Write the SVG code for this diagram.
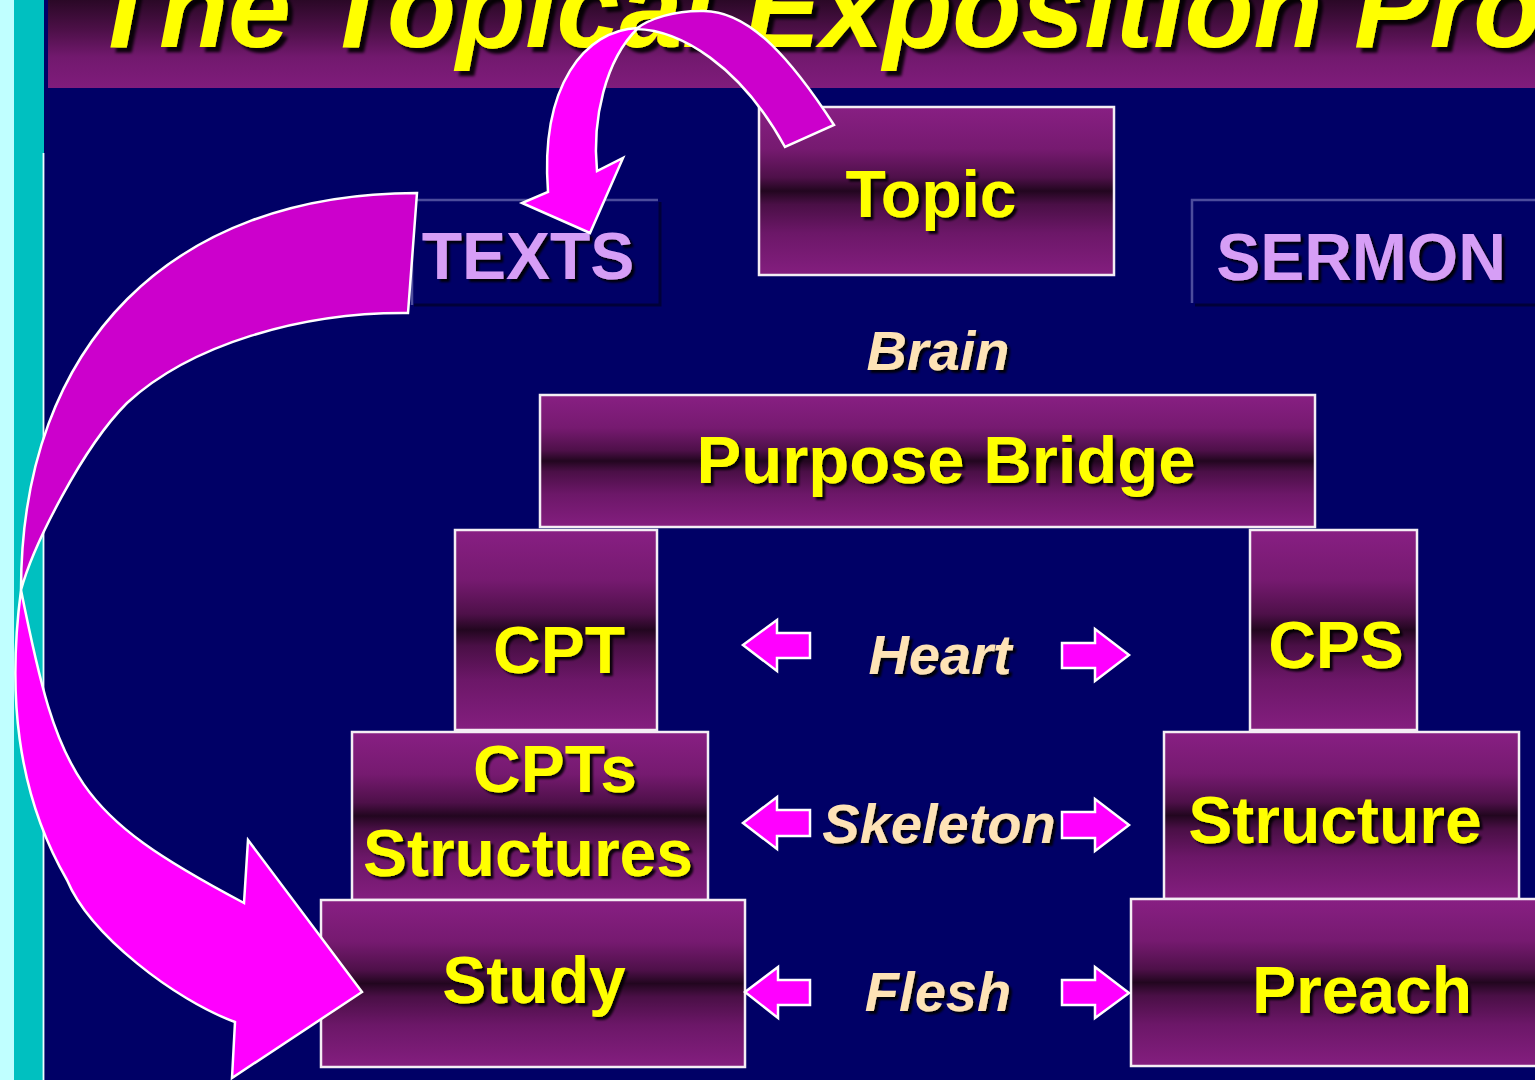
<svg xmlns="http://www.w3.org/2000/svg" width="1535" height="1080" viewBox="0 0 1535 1080">
<defs>
<linearGradient id="boxGrad" x1="0" y1="0" x2="0" y2="1">
<stop offset="0" stop-color="#881f83"/>
<stop offset="0.25" stop-color="#761a70"/>
<stop offset="0.42" stop-color="#4e1049"/>
<stop offset="0.5" stop-color="#22061f"/>
<stop offset="0.58" stop-color="#4a0f46"/>
<stop offset="0.75" stop-color="#6c1768"/>
<stop offset="1" stop-color="#841e7f"/>
</linearGradient>
<linearGradient id="titleGrad" x1="0" y1="0" x2="0" y2="1">
<stop offset="0" stop-color="#2a0826"/>
<stop offset="0.35" stop-color="#4e1049"/>
<stop offset="0.65" stop-color="#72196e"/>
<stop offset="1" stop-color="#801c7c"/>
</linearGradient>
<filter id="shadow" x="-10%" y="-20%" width="130%" height="150%">
<feDropShadow dx="3" dy="3" stdDeviation="1" flood-color="#000000" flood-opacity="0.9"/>
</filter>
<filter id="shadowBig" x="-10%" y="-20%" width="130%" height="150%">
<feDropShadow dx="5" dy="5" stdDeviation="1.5" flood-color="#000000" flood-opacity="0.9"/>
</filter>
<style>
.box{fill:url(#boxGrad);stroke:#f4eef4;stroke-width:2.5}
.lbl{font-family:"Liberation Sans",Arial,sans-serif;font-weight:bold;font-size:66px;fill:#ffff00;text-anchor:middle;filter:url(#shadow)}
.sec{font-family:"Liberation Sans",Arial,sans-serif;font-weight:bold;font-size:66px;fill:#d69ef6;text-anchor:middle;filter:url(#shadow)}
.mid{font-family:"Liberation Sans",Arial,sans-serif;font-weight:bold;font-style:italic;font-size:56px;fill:#fee3b6;text-anchor:middle;filter:url(#shadow)}
.title{font-family:"Liberation Sans",Arial,sans-serif;font-weight:bold;font-style:italic;font-size:113px;fill:#ffff00;filter:url(#shadowBig)}
.arr{fill:#ff00ff;stroke:#ffffff;stroke-width:2.5;stroke-linejoin:miter}
.arrDark{fill:#cc00cc;stroke:#ffffff;stroke-width:2.5;stroke-linejoin:miter}
.bevelLight{stroke:#4c4c9c;stroke-width:2.5;fill:none}
.bevelDark{stroke:#000038;stroke-width:3;fill:none}
</style>
</defs>

<!-- background -->
<rect x="0" y="0" width="1535" height="1080" fill="#000066"/>
<rect x="0" y="0" width="14" height="1080" fill="#c0ffff"/>
<rect x="14" y="0" width="30" height="1080" fill="#00c0c0"/>
<line x1="43.5" y1="153" x2="43.5" y2="1080" stroke="#e8ffff" stroke-width="1.8"/>

<!-- title bar -->
<g id="title">
<rect x="48" y="0" width="1487" height="88" fill="url(#titleGrad)"/>
<text class="title" x="90" y="47">The Topical Exposition Pro</text>
</g>

<!-- section headers -->
<g id="texts">
<rect x="412" y="200" width="248" height="105" fill="#000066"/>
<polyline class="bevelLight" points="412,305 412,200 658,200"/>
<polyline class="bevelDark" points="660,202 660,305 414,305"/>
<text class="sec" x="528" y="279">TEXTS</text>
</g>
<g id="sermon">
<rect x="1192" y="200" width="350" height="105" fill="#000066"/>
<polyline class="bevelLight" points="1192,303 1192,200 1535,200"/>
<polyline class="bevelDark" points="1195,305 1535,305"/>
<text class="sec" x="1361" y="280">SERMON</text>
</g>

<!-- nodes -->
<g id="topic">
<rect class="box" x="759" y="107" width="355" height="168"/>
<text class="lbl" x="931" y="217">Topic</text>
</g>
<g id="brain">
<text class="mid" x="938" y="370">Brain</text>
</g>
<g id="purpose-bridge">
<rect class="box" x="540" y="395" width="775" height="132"/>
<text class="lbl" x="946" y="483" style="font-size:67px">Purpose Bridge</text>
</g>
<g id="cpt">
<rect class="box" x="455" y="530" width="202" height="200"/>
<text class="lbl" x="559" y="673">CPT</text>
</g>
<g id="cps">
<rect class="box" x="1250" y="530" width="167" height="200"/>
<text class="lbl" x="1336" y="668">CPS</text>
</g>
<g id="cpts-structures">
<rect class="box" x="352" y="732" width="356" height="168"/>
<text class="lbl" x="555" y="792">CPTs</text>
<text class="lbl" x="528" y="876">Structures</text>
</g>
<g id="structure">
<rect class="box" x="1164" y="732" width="355" height="167"/>
<text class="lbl" x="1335" y="843">Structure</text>
</g>
<g id="study">
<rect class="box" x="321" y="900" width="424" height="167"/>
<text class="lbl" x="534" y="1003">Study</text>
</g>
<g id="preach">
<rect class="box" x="1131" y="899" width="420" height="167"/>
<text class="lbl" x="1362" y="1013">Preach</text>
</g>
<g id="heart">
<text class="mid" x="940" y="674">Heart</text>
</g>
<g id="skeleton">
<text class="mid" x="939" y="843">Skeleton</text>
</g>
<g id="flesh">
<text class="mid" x="938" y="1011">Flesh</text>
</g>

<!-- connectors -->
<g id="connectors">
<path class="arr" d="M743,645 L777,620 L777,633 L810,633 L810,658 L777,658 L777,671 Z"/>
<path class="arr" d="M1129,655 L1095,629 L1095,643 L1062,643 L1062,668 L1095,668 L1095,681 Z"/>
<path class="arr" d="M743,823 L777,797 L777,810 L810,810 L810,836 L777,836 L777,849 Z"/>
<path class="arr" d="M1129,825 L1095,799 L1095,812 L1062,812 L1062,838 L1095,838 L1095,851 Z"/>
<path class="arr" d="M745,992 L778,967 L778,980 L810,980 L810,1005 L778,1005 L778,1018 Z"/>
<path class="arr" d="M1129,993 L1095,967 L1095,980 L1062,980 L1062,1005 L1095,1005 L1095,1018 Z"/>

<!-- topic to texts curved arrow -->
<path class="arrDark" d="M834,125 C795,65 750,8 700,11 C675,11 650,18 636,29 C680,30 740,65 785,147 Z"/>
<path class="arr" d="M638,28 C585,30 540,85 548,192 L522,203 L590,233 L623,158 L597,171 C592,120 605,60 638,28 Z"/>

<!-- texts to study curved arrow -->
<path class="arrDark" d="M417,193 C172,193 21,344 21,590 C33,546 82,448 127,403 C190,345 300,312 408,313 Z"/>
<path class="arr" d="M21,590 C8,690 15,790 67,880 C90,935 175,1000 235,1022 L232,1078 L362,992 L248,840 L244,903 C76,814 59,780 21,590 Z"/>
</g>
</svg>
